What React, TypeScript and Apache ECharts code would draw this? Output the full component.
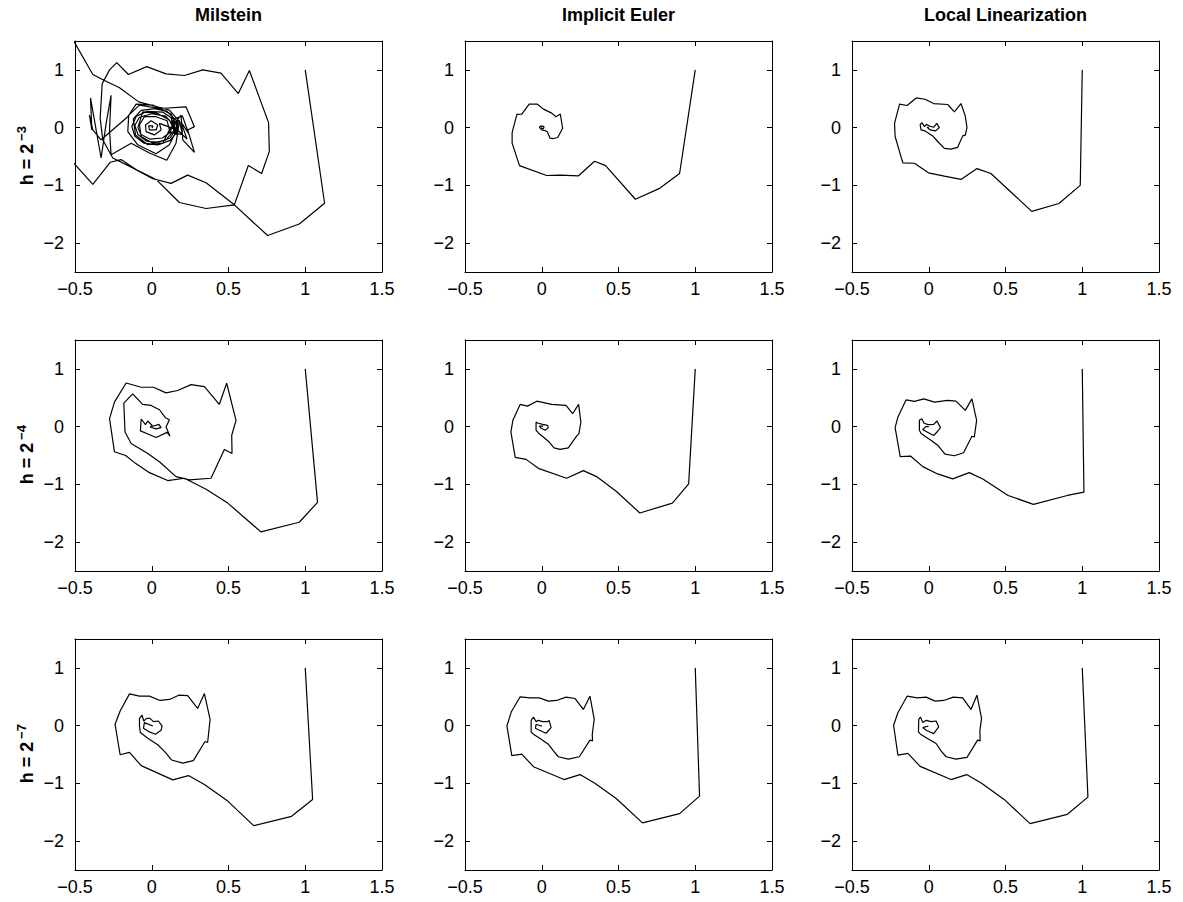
import React, { useEffect, useRef } from 'react';
import * as echarts from 'echarts';

const columnTitles = ['Milstein', 'Implicit Euler', 'Local Linearization'];
const rowExponents = ['\u22123', '\u22124', '\u22127'];
const xTicks = [-0.5, 0, 0.5, 1, 1.5];
const yTicks = [-2, -1, 0, 1];

// Milstein, h = 2^-3
const milsteinH3 = [
  [1.0, 1.0], [1.126, -1.309], [0.961, -1.669], [0.755, -1.869], [0.538, -1.337], [0.354, -0.954],
  [0.234, -0.823], [0.126, -0.966], [0.007, -0.886], [-0.124, -0.697], [-0.254, -0.526], [-0.319, -0.211],
  [-0.336, 0.16], [-0.323, 0.76], [-0.275, 1.0], [-0.228, 1.126], [-0.152, 0.92], [-0.033, 1.057],
  [0.093, 0.931], [0.213, 0.903], [0.332, 1.0], [0.451, 0.943], [0.564, 0.589], [0.636, 0.989],
  [0.761, 0.086], [0.766, -0.411], [0.716, -0.794], [0.629, -0.657], [0.538, -1.337], [0.354, -1.4],
  [0.18, -1.297], [0.028, -0.897], [-0.102, -0.726], [-0.2, -0.554], [-0.271, -0.6], [-0.384, -0.983],
  [-0.557, -0.469], [-0.57, 1.789], [-0.384, 0.92], [-0.308, 0.817], [-0.21, 0.691], [-0.085, 0.446],
  [0.115, 0.303], [0.18, 0.103], [0.158, -0.269], [0.098, -0.566], [-0.015, -0.44], [-0.134, -0.269],
  [-0.265, -0.469], [-0.275, -0.04], [-0.265, 0.56], [-0.297, 0.074], [-0.33, -0.526], [-0.399, 0.514],
  [-0.39, -0.04], [-0.406, 0.217], [-0.384, -0.04], [-0.33, -0.211], [-0.156, 0.189], [-0.102, 0.406],
  [0.007, 0.389], [0.126, 0.234], [0.169, -0.011], [0.115, -0.297], [0.028, -0.451], [-0.091, -0.297],
  [-0.156, -0.069], [-0.15, 0.217], [-0.08, 0.389], [0.05, 0.331], [0.223, 0.36], [0.278, 0.017],
  [0.234, -0.04], [0.278, -0.429], [0.202, -0.211], [0.191, 0.217], [0.115, -0.04], [0.072, -0.269],
  [-0.026, -0.297], [-0.106, -0.126], [-0.12, 0.15], [-0.07, 0.3], [0.02, 0.33], [0.1, 0.28],
  [0.16, 0.12], [0.17, -0.06], [0.12, -0.22], [0.04, -0.3], [-0.05, -0.27], [-0.11, -0.15],
  [-0.13, 0.02], [-0.1, 0.2], [-0.03, 0.28], [0.07, 0.27], [0.14, 0.15], [0.2, 0.2], [0.24, -0.1],
  [0.19, 0.1], [0.23, -0.2], [0.16, -0.02], [0.12, -0.18], [0.05, -0.25], [-0.03, -0.24],
  [-0.09, -0.12], [-0.11, 0.04], [-0.08, 0.18], [0.0, 0.24], [0.09, 0.2], [0.13, 0.08], [0.18, 0.12],
  [0.2, -0.12], [0.12, -0.08], [0.07, -0.18], [-0.01, -0.2], [-0.07, -0.12], [-0.09, 0.0],
  [-0.059, 0.274], [0.039, 0.246], [0.115, 0.131], [0.148, -0.04], [0.093, -0.211], [0.007, -0.269],
  [-0.069, -0.154], [-0.08, 0.046], [-0.048, 0.189], [0.028, 0.189], [0.1, 0.12], [0.12, -0.1],
  [0.14, 0.13], [0.16, -0.12], [0.17, 0.1], [0.15, -0.08], [0.126, 0.177], [0.148, -0.097],
  [0.13, 0.1], [0.155, -0.03], [0.05, 0.074], [0.061, -0.04], [0.017, -0.126], [-0.037, -0.069],
  [-0.041, 0.046], [-0.004, 0.12], [0.039, 0.046], [0.028, -0.04], [-0.015, -0.04], [-0.02, 0.029],
  [0.007, 0.029], [0.002, -0.006],
];

// Implicit Euler, h = 2^-3
const implicitH3 = [
  [1.0, 1.0], [0.898, -0.794], [0.764, -1.057], [0.61, -1.24], [0.416, -0.657], [0.344, -0.583],
  [0.24, -0.834], [0.119, -0.823], [0.032, -0.829], [-0.145, -0.657], [-0.193, -0.269], [-0.193, -0.086],
  [-0.162, 0.229], [-0.13, 0.234], [-0.082, 0.406], [-0.028, 0.406], [0.011, 0.32], [0.065, 0.251],
  [0.093, 0.189], [0.121, 0.234], [0.136, -0.011], [0.104, -0.171], [0.076, -0.189], [0.054, -0.183],
  [0.037, -0.074], [0.022, -0.051], [0.0, -0.04], [-0.015, 0.006], [-0.006, 0.03], [0.015, 0.017],
  [0.011, -0.017], [-0.004, -0.011], [0.0, 0.005],
];

// Local Linearization, h = 2^-3
const localH3 = [
  [1.0, 1.0], [0.987, -1.0], [0.848, -1.314], [0.671, -1.451], [0.405, -0.794], [0.314, -0.709],
  [0.21, -0.897], [0.102, -0.84], [-0.002, -0.783], [-0.093, -0.617], [-0.169, -0.611], [-0.219, -0.154],
  [-0.223, 0.074], [-0.19, 0.406], [-0.141, 0.383], [-0.082, 0.514], [-0.024, 0.491], [0.032, 0.417],
  [0.123, 0.4], [0.167, 0.274], [0.21, 0.417], [0.238, 0.2], [0.249, 0.0], [0.238, -0.131],
  [0.221, -0.143], [0.188, -0.343], [0.145, -0.371], [0.102, -0.36], [0.058, -0.24], [0.026, -0.143],
  [-0.024, -0.057], [-0.05, -0.04], [-0.056, 0.046], [-0.045, 0.086], [-0.028, 0.017], [-0.015, 0.057],
  [0.004, 0.029], [0.032, 0.006], [0.052, 0.074], [0.069, 0.0], [0.043, -0.057], [0.011, -0.04],
  [-0.011, 0.006], [0.0, 0.01],
];

// Milstein, h = 2^-4
const milsteinH4 = [
  [1.0, 1.0], [1.08, -1.312], [0.961, -1.656], [0.711, -1.822], [0.495, -1.324], [0.354, -1.083],
  [0.213, -0.894], [0.104, -0.934], [-0.015, -0.797], [-0.106, -0.636], [-0.17, -0.5], [-0.243, -0.436],
  [-0.275, 0.138], [-0.243, 0.424], [-0.167, 0.756], [-0.069, 0.682], [0.011, 0.682], [0.093, 0.585],
  [0.169, 0.625], [0.256, 0.728], [0.343, 0.693], [0.44, 0.384], [0.488, 0.751], [0.549, 0.109],
  [0.521, -0.149], [0.523, -0.464], [0.473, -0.395], [0.386, -0.894], [0.245, -0.923], [0.158, -0.865],
  [0.05, -0.607], [-0.026, -0.464], [-0.134, -0.292], [-0.174, -0.092], [-0.182, 0.407], [-0.124, 0.567],
  [-0.059, 0.384], [-0.004, 0.367], [0.05, 0.292], [0.089, 0.155], [0.115, 0.12], [0.093, -0.006],
  [0.119, -0.166], [0.1, -0.1], [0.028, -0.189], [-0.033, -0.12], [-0.074, -0.074], [-0.069, 0.132],
  [-0.041, 0.034], [-0.026, 0.097], [0.007, 0.006], [0.046, 0.04], [0.061, -0.017], [0.028, -0.04],
  [-0.011, -0.006], [0.0, 0.01],
];

// Implicit Euler, h = 2^-4
const implicitH4 = [
  [1.0, 1.0], [0.957, -0.991], [0.851, -1.324], [0.639, -1.496], [0.487, -1.123], [0.357, -0.865],
  [0.271, -0.762], [0.162, -0.894], [-0.022, -0.722], [-0.102, -0.567], [-0.173, -0.533], [-0.201, -0.092],
  [-0.188, 0.109], [-0.141, 0.384], [-0.093, 0.355], [-0.032, 0.441], [0.065, 0.384], [0.158, 0.367],
  [0.201, 0.223], [0.24, 0.384], [0.255, 0.08], [0.242, -0.12], [0.227, -0.166], [0.173, -0.367],
  [0.119, -0.395], [0.08, -0.367], [0.043, -0.252], [-0.022, -0.109], [-0.037, -0.063], [-0.037, 0.08],
  [-0.028, 0.063], [0.006, 0.04], [0.037, 0.023], [0.043, -0.017], [0.022, -0.063], [-0.006, -0.023],
  [-0.015, 0.01], [0.01, 0.01],
];

// Local Linearization, h = 2^-4
const localH4 = [
  [1.0, 1.0], [1.011, -1.135], [0.903, -1.192], [0.682, -1.347], [0.517, -1.192], [0.355, -0.911],
  [0.264, -0.797], [0.156, -0.905], [0.058, -0.819], [-0.039, -0.693], [-0.119, -0.51], [-0.186, -0.521],
  [-0.219, -0.017], [-0.201, 0.166], [-0.147, 0.464], [-0.093, 0.436], [-0.032, 0.481], [0.037, 0.424],
  [0.123, 0.453], [0.177, 0.441], [0.238, 0.281], [0.281, 0.481], [0.312, 0.109], [0.297, -0.178],
  [0.281, -0.166], [0.227, -0.453], [0.167, -0.504], [0.106, -0.476], [0.058, -0.321], [0.019, -0.246],
  [-0.05, -0.12], [-0.061, -0.063], [-0.061, 0.109], [-0.045, 0.138], [-0.032, 0.063], [-0.006, 0.034],
  [0.032, 0.04], [0.054, 0.097], [0.076, -0.017], [0.058, -0.08], [0.032, -0.155], [-0.011, -0.092],
  [-0.039, -0.052], [-0.02, 0.0], [0.0, 0.0],
];

// Milstein, h = 2^-7
const milsteinH7 = [
  [1.0, 1.0], [1.048, -1.278], [0.911, -1.57], [0.664, -1.731], [0.495, -1.307], [0.343, -1.02],
  [0.239, -0.865], [0.137, -0.94], [-0.069, -0.693], [-0.145, -0.464], [-0.206, -0.504], [-0.239, 0.023],
  [-0.206, 0.252], [-0.145, 0.55], [-0.08, 0.51], [-0.015, 0.51], [0.054, 0.436], [0.115, 0.453],
  [0.176, 0.527], [0.234, 0.521], [0.299, 0.298], [0.343, 0.556], [0.38, 0.109], [0.364, -0.292],
  [0.347, -0.275], [0.271, -0.607], [0.202, -0.648], [0.13, -0.596], [0.089, -0.464], [0.039, -0.332],
  [-0.026, -0.218], [-0.074, -0.12], [-0.08, -0.006], [-0.08, 0.126], [-0.063, 0.183], [-0.052, 0.08],
  [-0.033, 0.126], [-0.011, 0.126], [0.011, 0.069], [0.043, 0.08], [0.067, -0.006], [0.061, -0.08],
  [0.024, -0.149], [-0.02, -0.103], [-0.054, -0.046], [-0.048, 0.052], [0.007, -0.006], [0.0, 0.0],
];

// Implicit Euler, h = 2^-7
const implicitH7 = [
  [1.0, 1.0], [1.028, -1.221], [0.898, -1.524], [0.656, -1.685], [0.487, -1.266], [0.346, -0.997],
  [0.249, -0.848], [0.145, -0.934], [-0.054, -0.711], [-0.13, -0.493], [-0.195, -0.521], [-0.227, -0.006],
  [-0.199, 0.235], [-0.141, 0.499], [-0.076, 0.481], [-0.015, 0.481], [0.043, 0.424], [0.097, 0.436],
  [0.158, 0.493], [0.216, 0.47], [0.271, 0.281], [0.314, 0.51], [0.342, 0.109], [0.329, -0.149],
  [0.331, -0.264], [0.314, -0.252], [0.245, -0.539], [0.173, -0.579], [0.108, -0.539], [0.076, -0.436],
  [0.043, -0.321], [-0.011, -0.223], [-0.054, -0.149], [-0.069, -0.109], [-0.069, 0.092], [-0.054, 0.149],
  [-0.037, 0.069], [-0.022, 0.092], [0.006, 0.069], [0.039, 0.069], [0.048, 0.092], [0.061, -0.034],
  [0.028, -0.132], [-0.015, -0.08], [-0.041, -0.046], [-0.037, 0.023], [-0.006, -0.006], [0.002, 0.0],
];

// Local Linearization, h = 2^-7
const localH7 = [
  [1.0, 1.0], [1.037, -1.238], [0.903, -1.536], [0.66, -1.696], [0.491, -1.278], [0.344, -0.997],
  [0.247, -0.848], [0.145, -0.934], [-0.056, -0.705], [-0.136, -0.481], [-0.201, -0.51], [-0.229, 0.006],
  [-0.201, 0.224], [-0.141, 0.51], [-0.076, 0.481], [-0.017, 0.493], [0.041, 0.424], [0.097, 0.436],
  [0.16, 0.493], [0.221, 0.481], [0.275, 0.281], [0.314, 0.527], [0.344, 0.126], [0.333, -0.092],
  [0.335, -0.264], [0.318, -0.252], [0.249, -0.55], [0.177, -0.579], [0.113, -0.539], [0.08, -0.436],
  [0.048, -0.309], [-0.011, -0.218], [-0.054, -0.149], [-0.067, -0.109], [-0.065, 0.109], [-0.054, 0.149],
  [-0.039, 0.052], [-0.017, 0.092], [0.015, 0.069], [0.048, 0.08], [0.065, -0.023], [0.032, -0.138],
  [-0.017, -0.08], [-0.039, -0.034], [-0.002, -0.006], [0.0, 0.0],
];

const panelData = [
  [milsteinH3, implicitH3, localH3],
  [milsteinH4, implicitH4, localH4],
  [milsteinH7, implicitH7, localH7],
];

const FONT = '"Liberation Sans", Arial, Helvetica, sans-serif';
const GRID_LEFTS = [75, 465, 852];
const GRID_TOPS = [41, 340, 639];
const GRID_W = 307;
const GRID_H = 231;

const fmt = (v: number) => (v < 0 ? '\u2212' + Math.abs(v) : String(v));

export default function App() {
  const ref = useRef<HTMLDivElement>(null);
  useEffect(() => {
    if (!ref.current) return;
    const chart = echarts.init(ref.current, undefined, { renderer: 'svg' });
    const grid: any[] = [];
    const xAxis: any[] = [];
    const yAxis: any[] = [];
    const series: any[] = [];
    const lineStyle = { color: '#000', width: 1 };
    let g = 0;
    for (let r = 0; r < 3; r++) {
      for (let c = 0; c < 3; c++) {
        grid.push({ left: GRID_LEFTS[c], top: GRID_TOPS[r], width: GRID_W, height: GRID_H, containLabel: false });
        const xBase = {
          type: 'value', gridIndex: g, min: -0.5, max: 1.5, interval: 0.5,
          axisLine: { onZero: false, lineStyle },
          axisTick: { inside: true, length: 5, lineStyle },
          splitLine: { show: false },
        };
        xAxis.push({ ...xBase, position: 'bottom', axisLabel: { color: '#000', fontSize: 18, fontFamily: FONT, margin: 8, formatter: fmt, customValues: xTicks } });
        xAxis.push({ ...xBase, position: 'top', axisLabel: { show: false } });
        const yBase = {
          type: 'value', gridIndex: g, min: -2.5, max: 1.5,
          axisLine: { onZero: false, lineStyle },
          axisTick: { inside: true, length: 5, lineStyle, customValues: yTicks },
          splitLine: { show: false },
        };
        yAxis.push({ ...yBase, position: 'left', axisLabel: { color: '#000', fontSize: 18, fontFamily: FONT, margin: 11, formatter: fmt, customValues: yTicks } });
        yAxis.push({ ...yBase, position: 'right', axisLabel: { show: false, customValues: yTicks } });
        series.push({
          type: 'line', xAxisIndex: 2 * g, yAxisIndex: 2 * g, data: panelData[r][c],
          showSymbol: false, symbol: 'none', clip: true, lineStyle: { color: '#000', width: 1.2 },
        });
        g++;
      }
    }
    const graphic: any[] = [];
    columnTitles.forEach((t, c) => {
      graphic.push({
        type: 'text', x: GRID_LEFTS[c] + GRID_W / 2, y: 15,
        style: { text: t, fontSize: 18, fontWeight: 'bold', fontFamily: FONT, fill: '#000', align: 'center', verticalAlign: 'middle' },
      });
    });
    rowExponents.forEach((e, r) => {
      const cy = GRID_TOPS[r] + GRID_H / 2;
      graphic.push({
        type: 'text', x: 27, y: cy + 8, rotation: Math.PI / 2,
        style: { text: 'h = 2', fontSize: 18, fontWeight: 'bold', fontFamily: FONT, fill: '#000', align: 'center', verticalAlign: 'middle' },
      });
      graphic.push({
        type: 'text', x: 21, y: cy - 23, rotation: Math.PI / 2,
        style: { text: e, fontSize: 13, fontWeight: 'bold', fontFamily: FONT, fill: '#000', align: 'center', verticalAlign: 'middle' },
      });
    });
    chart.setOption({ animation: false, backgroundColor: '#fff', grid, xAxis, yAxis, series, graphic });
    return () => chart.dispose();
  }, []);
  return <div ref={ref} style={{ position: 'absolute', left: 0, top: 0, width: 1183, height: 902 }} />;
}
